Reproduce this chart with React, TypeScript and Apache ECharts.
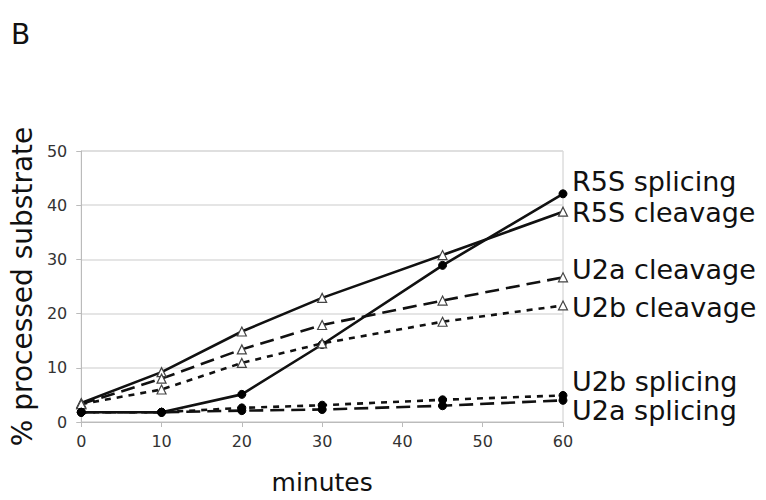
import React, { useEffect, useRef } from "react";
import * as echarts from "echarts";

const minutes = [0, 10, 20, 30, 45, 60];
const r5sSplicing = [1.8, 1.8, 5.1, 14.3, 28.9, 42.1];
const r5sCleavage = [3.5, 9.2, 16.7, 22.9, 30.8, 38.8];
const u2aCleavage = [3.3, 8.0, 13.4, 17.9, 22.4, 26.7];
const u2bCleavage = [3.3, 6.0, 10.9, 14.5, 18.5, 21.5];
const u2bSplicing = [1.8, 1.8, 2.6, 3.1, 4.1, 4.9];
const u2aSplicing = [1.8, 1.8, 2.1, 2.3, 3.0, 4.0];
const seriesNames = ["R5S splicing", "R5S cleavage", "U2a cleavage", "U2b cleavage", "U2b splicing", "U2a splicing"];
const xTicks = [0, 10, 20, 30, 40, 50, 60];
const yTicks = [0, 10, 20, 30, 40, 50];

export default function App() {
  const ref = useRef<HTMLDivElement>(null);
  useEffect(() => {
    if (!ref.current) return;
    const chart = echarts.init(ref.current, null, { renderer: "svg" });
    const font = "DejaVu Sans, Verdana, sans-serif";
    const mk = (name: string, vals: number[], dash: any, marker: string, labelDy: number) => ({
      name,
      type: "line",
      data: vals.map((v, i) => [minutes[i], v]),
      symbol: marker === "dot" ? "circle" : "triangle",
      symbolSize: marker === "dot" ? 8 : 9,
      itemStyle: marker === "dot"
        ? { color: "#000", borderColor: "#000", borderWidth: 1 }
        : { color: "#fff", borderColor: "#444", borderWidth: 1.2 },
      lineStyle: { color: "#111", width: 2.6, type: dash },
      endLabel: {
        show: true,
        formatter: name,
        color: "#111",
        fontSize: 27,
        lineHeight: 25,
        fontFamily: font,
        distance: 9,
        offset: [0, labelDy],
      },
      z: 2,
    });
    chart.setOption({
      animation: false,
      grid: { left: 80, right: 203, top: 151, bottom: 75, show: true, borderColor: "#ccc", borderWidth: 1 },
      xAxis: {
        type: "value",
        min: 0,
        max: 60,
        interval: 10,
        name: "minutes",
        nameLocation: "middle",
        nameGap: 48,
        nameTextStyle: { fontSize: 25, color: "#111", fontFamily: font },
        axisLine: { show: true, lineStyle: { color: "#bbb" } },
        axisTick: { show: true, lineStyle: { color: "#bbb" }, length: 5 },
        axisLabel: { color: "#333", fontSize: 16, fontFamily: font, margin: 11,
          formatter: (v: number) => (xTicks.includes(v) ? String(v) : "") },
        splitLine: { show: false },
      },
      yAxis: {
        type: "value",
        min: 0,
        max: 50,
        interval: 10,
        name: "% processed substrate",
        nameLocation: "middle",
        nameGap: 44,
        nameTextStyle: { fontSize: 28, color: "#111", fontFamily: font },
        axisLine: { show: true, lineStyle: { color: "#bbb" } },
        axisTick: { show: true, lineStyle: { color: "#bbb" }, length: 5 },
        axisLabel: { color: "#333", fontSize: 16, fontFamily: font, margin: 14,
          formatter: (v: number) => (yTicks.includes(v) ? String(v) : "") },
        splitLine: { show: true, lineStyle: { color: "#ddd", width: 1.5 } },
      },
      graphic: [
        { type: "text", left: 11, top: 20, style: { text: "B", fontSize: 28, fill: "#111", fontFamily: font } },
      ],
      series: [
        mk(seriesNames[0], r5sSplicing, "solid", "dot", -12),
        mk(seriesNames[1], r5sCleavage, "solid", "tri", 1),
        mk(seriesNames[2], u2aCleavage, [14, 7], "tri", -8),
        mk(seriesNames[3], u2bCleavage, [6, 6], "tri", 2),
        mk(seriesNames[4], u2bSplicing, [6, 6], "dot", -14),
        mk(seriesNames[5], u2aSplicing, [14, 7], "dot", 10),
      ],
    });
    return () => chart.dispose();
  }, []);
  return <div ref={ref} style={{ position: "fixed", left: 0, top: 0, width: 766, height: 500, background: "#fff" }} />;
}
